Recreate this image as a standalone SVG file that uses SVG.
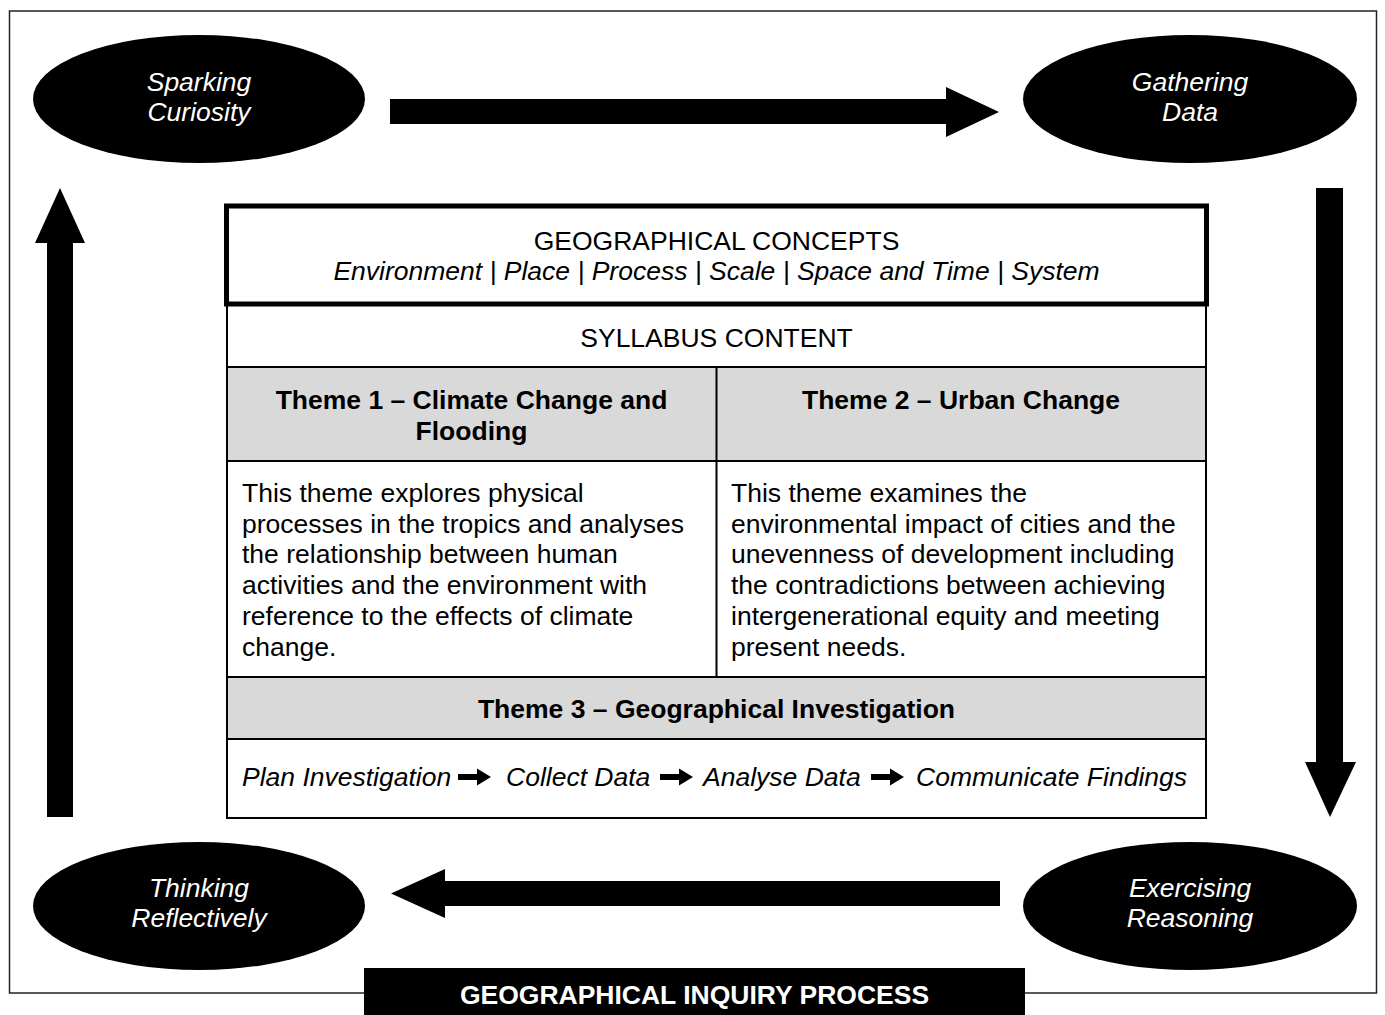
<svg xmlns="http://www.w3.org/2000/svg" width="1385" height="1015" viewBox="0 0 1385 1015">
<style>
text{font-family:"Liberation Sans",Arial,sans-serif;font-size:26.5px;fill:#000}
.it{font-style:italic}
.b{font-weight:bold}
.mid{text-anchor:middle}
.node ellipse{fill:#000}
.node text{fill:#fff;font-style:italic;text-anchor:middle}
.line{stroke:#000;stroke-width:2;fill:none}
.gray{fill:#d9d9d9}
</style>
<defs>
<path id="smallArrow" d="M0,-3 H19 V-8.5 L33,0 L19,8.5 V3 H0 Z" fill="#000"/>
</defs>
<rect id="frame" x="9.5" y="11" width="1367" height="982" fill="#fff" stroke="#222" stroke-width="1.5"/>
<g id="connectors" fill="#000">
<polygon points="390,99 946,99 946,87 999,112 946,137 946,124 390,124"/>
<polygon points="1316,188 1343,188 1343,762 1356,762 1330,817 1305,762 1316,762"/>
<polygon points="1000,881 445,881 445,869 391,893.5 445,918 445,906 1000,906"/>
<polygon points="47,817 73,817 73,243 85,243 60,188 35,243 47,243"/>
</g>
<g id="node-sparking" class="node">
<ellipse cx="199" cy="99" rx="166" ry="64"/>
<text x="199" y="91">Sparking</text>
<text x="199" y="121">Curiosity</text>
</g>
<g id="node-gathering" class="node">
<ellipse cx="1190" cy="99" rx="167" ry="64"/>
<text x="1190" y="91">Gathering</text>
<text x="1190" y="121">Data</text>
</g>
<g id="node-exercising" class="node">
<ellipse cx="1190" cy="906" rx="167" ry="64"/>
<text x="1190" y="897">Exercising</text>
<text x="1190" y="927">Reasoning</text>
</g>
<g id="node-thinking" class="node">
<ellipse cx="199" cy="906" rx="166" ry="64"/>
<text x="199" y="897">Thinking</text>
<text x="199" y="927">Reflectively</text>
</g>
<g id="node-syllabus">
<rect x="227" y="304" width="979" height="514" fill="#fff"/>
<rect class="gray" x="227" y="367" width="979" height="94"/>
<rect class="gray" x="227" y="677" width="979" height="62"/>
<rect class="line" x="227" y="304" width="979" height="514"/>
<path class="line" d="M227,367 H1206 M227,461 H1206 M227,677 H1206 M227,739 H1206 M716.5,367 V677"/>
<text class="mid" x="716.5" y="347">SYLLABUS CONTENT</text>
<text class="mid b" x="471.5" y="409">Theme 1 – Climate Change and</text>
<text class="mid b" x="471.5" y="440">Flooding</text>
<text class="mid b" x="961" y="409">Theme 2 – Urban Change</text>
<text x="242" y="502">This theme explores physical</text>
<text x="242" y="532.7">processes in the tropics and analyses</text>
<text x="242" y="563.4">the relationship between human</text>
<text x="242" y="594.1">activities and the environment with</text>
<text x="242" y="624.8">reference to the effects of climate</text>
<text x="242" y="655.5">change.</text>
<text x="731" y="502">This theme examines the</text>
<text x="731" y="532.7">environmental impact of cities and the</text>
<text x="731" y="563.4">unevenness of development including</text>
<text x="731" y="594.1">the contradictions between achieving</text>
<text x="731" y="624.8">intergenerational equity and meeting</text>
<text x="731" y="655.5">present needs.</text>
<text class="mid b" x="716.5" y="718">Theme 3 – Geographical Investigation</text>
<text class="it" x="242" y="786">Plan Investigation</text>
<use href="#smallArrow" x="458" y="777"/>
<text class="it" x="506" y="786">Collect Data</text>
<use href="#smallArrow" x="660" y="777"/>
<text class="it" x="703" y="786">Analyse Data</text>
<use href="#smallArrow" x="871" y="777"/>
<text class="it" x="916" y="786">Communicate Findings</text>
</g>
<g id="node-concepts">
<rect x="226.5" y="206" width="980" height="98" fill="#fff" stroke="#000" stroke-width="5"/>
<text class="mid" x="716.5" y="250">GEOGRAPHICAL CONCEPTS</text>
<text class="mid it" x="716.5" y="280">Environment | Place | Process | Scale | Space and Time | System</text>
</g>
<g id="node-label">
<rect x="364" y="968" width="661" height="50" fill="#000"/>
<text class="mid b" x="694.5" y="1004" style="fill:#fff">GEOGRAPHICAL INQUIRY PROCESS</text>
</g>
</svg>
